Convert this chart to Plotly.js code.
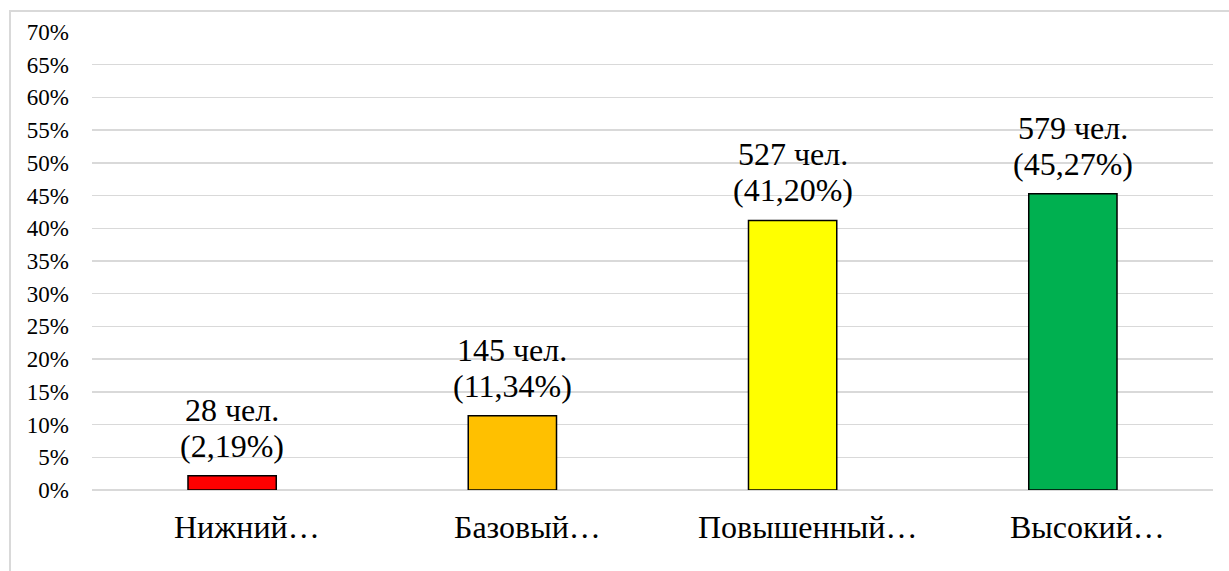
<!DOCTYPE html>
<html>
<head>
<meta charset="utf-8">
<script src="https://cdn.plot.ly/plotly-3.0.1.min.js"></script>
<style>
html,body{margin:0;padding:0;background:#fff;}
#wrap{position:relative;width:1229px;height:571px;overflow:hidden;}
#chart{width:1229px;height:571px;}
#frame{position:absolute;left:9px;top:10px;width:1260px;height:620px;border:2px solid #d9d9d9;pointer-events:none;}
</style>
</head>
<body>
<div id="wrap"><div id="chart"></div><div id="frame"></div></div>
<script>
const categories = ["Нижний…", "Базовый…", "Повышенный…", "Высокий…"];
const percents = [2.19, 11.34, 41.20, 45.27];
const counts = [28, 145, 527, 579];
const percentLabels = ["2,19%", "11,34%", "41,20%", "45,27%"];
const colors = ["#FF0000", "#FFC000", "#FFFF00", "#00B050"];
const tickVals = [0,5,10,15,20,25,30,35,40,45,50,55,60,65,70];
const tickText = tickVals.map(v => v + "%");

const serif = "Liberation Serif";

const trace = {
  type: "bar",
  x: categories,
  y: percents,
  marker: {color: colors, line: {color: "#000000", width: 1.5}},
  hoverinfo: "none"
};

const labelFont = {family: serif, size: 32, color: "#000"};
const annotations = [];
categories.forEach((c, i) => {
  annotations.push({
    x: c, y: percents[i], xref: "x", yref: "y",
    text: "(" + percentLabels[i] + ")",
    showarrow: false, yanchor: "bottom", yshift: 10,
    font: labelFont
  });
  annotations.push({
    x: c, y: percents[i], xref: "x", yref: "y",
    text: counts[i] + " чел.",
    showarrow: false, yanchor: "bottom", yshift: 46,
    font: labelFont
  });
  // category label (Excel-style, slightly right of bar centre)
  annotations.push({
    x: c, y: 0, xref: "x", yref: "y",
    text: c,
    showarrow: false, yanchor: "top", yshift: -17, xshift: 15,
    font: labelFont
  });
});

const layout = {
  width: 1229, height: 571,
  margin: {l: 92, r: 16, t: 32, b: 81},
  paper_bgcolor: "#fff", plot_bgcolor: "#fff",
  showlegend: false,
  bargap: 0.685,
  font: {family: serif},
  xaxis: {
    type: "category",
    showgrid: false, zeroline: false, showline: false,
    ticks: "", showticklabels: false
  },
  yaxis: {
    range: [0, 70],
    tickvals: tickVals, ticktext: tickText,
    showgrid: true, gridcolor: "#d9d9d9", gridwidth: 1.5,
    zeroline: true, zerolinecolor: "#d9d9d9", zerolinewidth: 1.5,
    showline: false, ticks: "", ticklabelstandoff: 22,
    tickfont: {family: serif, size: 23, color: "#000"}
  },
  annotations: annotations
};

Plotly.newPlot("chart", [trace], layout, {displayModeBar: false, staticPlot: true});
</script>
</body>
</html>
